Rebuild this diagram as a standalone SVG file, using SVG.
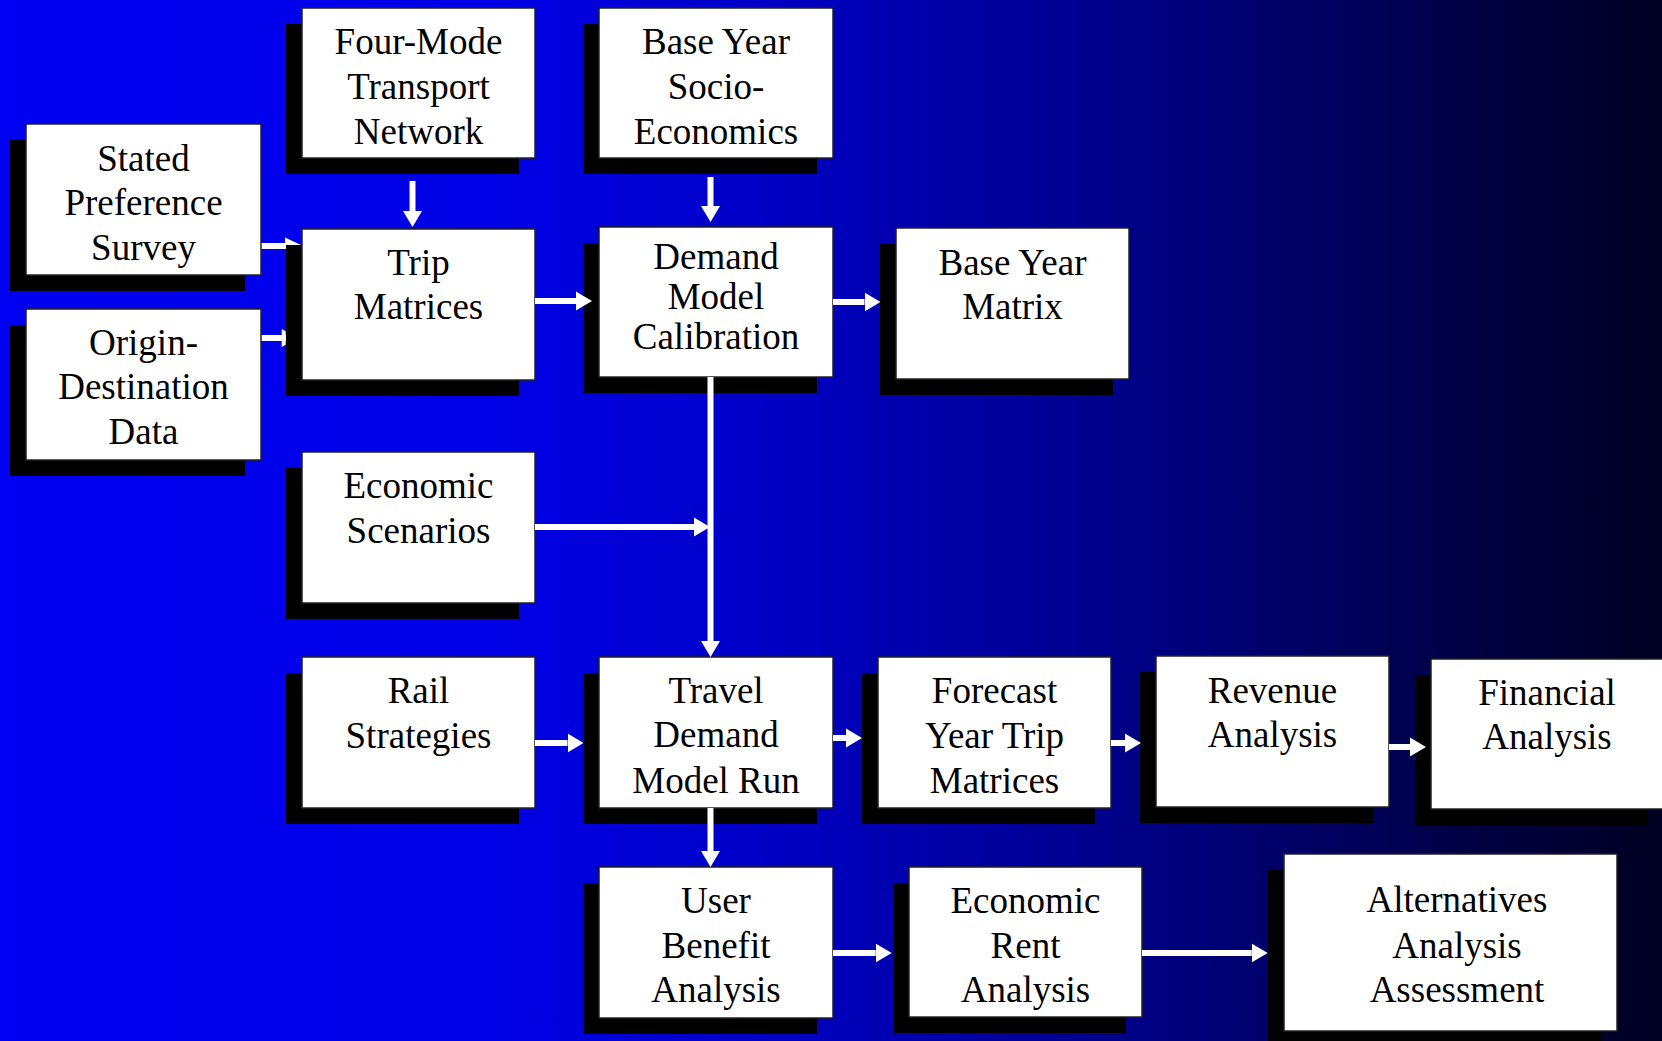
<svg xmlns="http://www.w3.org/2000/svg" width="1662" height="1041" viewBox="0 0 1662 1041">
<style>
.shadow{fill:#000}
.box{fill:#fff;stroke:#222;stroke-width:1.5}
.lbl{font-family:"Liberation Serif","Times New Roman",serif;font-size:37px;fill:#000;text-anchor:middle}
.conn{stroke:#fff;stroke-width:6;fill:none}
.head{fill:#fff}
</style>
<defs>
<linearGradient id="bg" x1="0" y1="0" x2="1" y2="0">
<stop offset="0" stop-color="#0000f2"/>
<stop offset="0.3" stop-color="#0000e6"/>
<stop offset="0.45" stop-color="#0000c8"/>
<stop offset="0.6" stop-color="#0000a0"/>
<stop offset="0.75" stop-color="#000070"/>
<stop offset="0.88" stop-color="#000045"/>
<stop offset="1" stop-color="#000022"/>
</linearGradient>
<marker id="ah" markerUnits="userSpaceOnUse" markerWidth="17" markerHeight="20" viewBox="0 -10 17 20" refX="0" refY="0" orient="auto">
<path d="M0,-9.5 L16,0 L0,9.5 z" fill="#fff"/>
</marker>
</defs>
<rect x="0" y="0" width="1662" height="1041" fill="url(#bg)"/>

<g id="connectors-under">
<path class="conn" d="M261,246 H286"/>
<polygon class="head" points="285,237.5 301,245 285,245"/>
<path class="conn" d="M261,338 H286"/>
<polygon class="head" points="281.7,329 285.7,331.2 285.7,344.8 281.7,347"/>
</g>

<g id="n-fourmode">
<rect class="shadow" x="286" y="24" width="233" height="150"/>
<rect class="box" x="302" y="8" width="233" height="150"/>
<text class="lbl"><tspan x="418.5" y="54">Four-Mode</tspan><tspan x="418.5" y="99">Transport</tspan><tspan x="418.5" y="144">Network</tspan></text>
</g>
<g id="n-baseyearsocio">
<rect class="shadow" x="583" y="24" width="234" height="150"/>
<rect class="box" x="599" y="8" width="234" height="150"/>
<text class="lbl"><tspan x="716" y="54">Base Year</tspan><tspan x="716" y="99">Socio-</tspan><tspan x="716" y="144">Economics</tspan></text>
</g>
<g id="n-stated">
<rect class="shadow" x="10" y="140" width="235" height="151"/>
<rect class="box" x="26" y="124" width="235" height="151"/>
<text class="lbl"><tspan x="143.5" y="171">Stated</tspan><tspan x="143.5" y="215">Preference</tspan><tspan x="143.5" y="260">Survey</tspan></text>
</g>
<g id="n-od">
<rect class="shadow" x="10" y="325" width="235" height="151"/>
<rect class="box" x="26" y="309" width="235" height="151"/>
<text class="lbl"><tspan x="143.5" y="355">Origin-</tspan><tspan x="143.5" y="399">Destination</tspan><tspan x="143.5" y="444">Data</tspan></text>
</g>
<g id="n-trip">
<rect class="shadow" x="286" y="245" width="233" height="151"/>
<rect class="box" x="302" y="229" width="233" height="151"/>
<text class="lbl"><tspan x="418.5" y="275">Trip</tspan><tspan x="418.5" y="319">Matrices</tspan></text>
</g>
<g id="n-dmc">
<rect class="shadow" x="583" y="243" width="234" height="150"/>
<rect class="box" x="599" y="227" width="234" height="150"/>
<text class="lbl"><tspan x="716" y="269">Demand</tspan><tspan x="716" y="309">Model</tspan><tspan x="716" y="349">Calibration</tspan></text>
</g>
<g id="n-bym">
<rect class="shadow" x="880" y="244" width="233" height="151"/>
<rect class="box" x="896" y="228" width="233" height="151"/>
<text class="lbl"><tspan x="1012.5" y="275">Base Year</tspan><tspan x="1012.5" y="319">Matrix</tspan></text>
</g>
<g id="n-econscen">
<rect class="shadow" x="286" y="468" width="233" height="151"/>
<rect class="box" x="302" y="452" width="233" height="151"/>
<text class="lbl"><tspan x="418.5" y="498">Economic</tspan><tspan x="418.5" y="543">Scenarios</tspan></text>
</g>
<g id="n-rail">
<rect class="shadow" x="286" y="673" width="233" height="151"/>
<rect class="box" x="302" y="657" width="233" height="151"/>
<text class="lbl"><tspan x="418.5" y="703">Rail</tspan><tspan x="418.5" y="748">Strategies</tspan></text>
</g>
<g id="n-tdmr">
<rect class="shadow" x="583" y="673" width="234" height="151"/>
<rect class="box" x="599" y="657" width="234" height="151"/>
<text class="lbl"><tspan x="716" y="703">Travel</tspan><tspan x="716" y="747">Demand</tspan><tspan x="716" y="793">Model Run</tspan></text>
</g>
<g id="n-forecast">
<rect class="shadow" x="862" y="673" width="233" height="151"/>
<rect class="box" x="878" y="657" width="233" height="151"/>
<text class="lbl"><tspan x="994.5" y="703">Forecast</tspan><tspan x="994.5" y="748">Year Trip</tspan><tspan x="994.5" y="793">Matrices</tspan></text>
</g>
<g id="n-revenue">
<rect class="shadow" x="1140" y="672" width="233" height="151"/>
<rect class="box" x="1156" y="656" width="233" height="151"/>
<text class="lbl"><tspan x="1272.5" y="703">Revenue</tspan><tspan x="1272.5" y="747">Analysis</tspan></text>
</g>
<g id="n-financial">
<rect class="shadow" x="1415" y="675" width="233" height="151"/>
<rect class="box" x="1431" y="659" width="233" height="150"/>
<text class="lbl"><tspan x="1547" y="705">Financial</tspan><tspan x="1547" y="749">Analysis</tspan></text>
</g>
<g id="n-uba">
<rect class="shadow" x="583" y="883" width="234" height="151"/>
<rect class="box" x="599" y="867" width="234" height="151"/>
<text class="lbl"><tspan x="716" y="913">User</tspan><tspan x="716" y="958">Benefit</tspan><tspan x="716" y="1002">Analysis</tspan></text>
</g>
<g id="n-era">
<rect class="shadow" x="893" y="883" width="233" height="150"/>
<rect class="box" x="909" y="867" width="233" height="150"/>
<text class="lbl"><tspan x="1025.5" y="913">Economic</tspan><tspan x="1025.5" y="958">Rent</tspan><tspan x="1025.5" y="1002">Analysis</tspan></text>
</g>
<g id="n-aaa">
<rect class="shadow" x="1268" y="870" width="333" height="177"/>
<rect class="box" x="1284" y="854" width="333" height="177"/>
<text class="lbl"><tspan x="1457" y="912">Alternatives</tspan><tspan x="1457" y="958">Analysis</tspan><tspan x="1457" y="1002">Assessment</tspan></text>
</g>

<g id="connectors">
<path class="conn" d="M412.5,181 V211" marker-end="url(#ah)"/>
<path class="conn" d="M710.5,177 V206" marker-end="url(#ah)"/>
<path class="conn" d="M535,301 H576" marker-end="url(#ah)"/>
<path class="conn" d="M833,302 H864.5" marker-end="url(#ah)"/>
<path class="conn" d="M710.5,377 V641" marker-end="url(#ah)"/>
<path class="conn" d="M535,527 H694" marker-end="url(#ah)"/>
<path class="conn" d="M535,743 H567.5" marker-end="url(#ah)"/>
<path class="conn" d="M833,738 H846" marker-end="url(#ah)"/>
<path class="conn" d="M1111,743 H1125" marker-end="url(#ah)"/>
<path class="conn" d="M1389,747 H1410" marker-end="url(#ah)"/>
<path class="conn" d="M710.5,808 V851" marker-end="url(#ah)"/>
<path class="conn" d="M833,953 H875.7" marker-end="url(#ah)"/>
<path class="conn" d="M1142,953 H1251.7" marker-end="url(#ah)"/>
</g>
</svg>
